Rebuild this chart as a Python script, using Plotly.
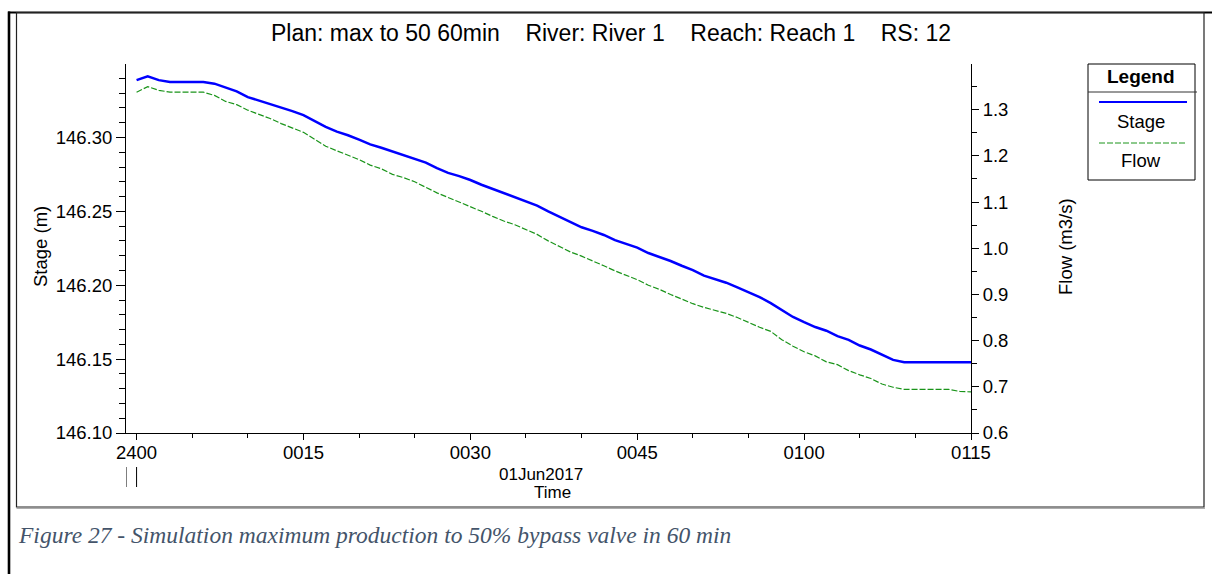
import plotly.graph_objects as go

# ---------------- data ----------------
minutes = list(range(76))  # minutes after 2400 (31May2017) -> 0115 01Jun2017

stage = [
    146.3388, 146.3414, 146.3388, 146.3375, 146.3375, 146.3375, 146.3375, 146.3364,
    146.3340, 146.3312, 146.3273, 146.3250, 146.3228, 146.3203, 146.3178, 146.3151,
    146.3112, 146.3072, 146.3039, 146.3015, 146.2985, 146.2953, 146.2930, 146.2905,
    146.2880, 146.2855, 146.2830, 146.2792, 146.2760, 146.2738, 146.2712, 146.2680,
    146.2652, 146.2625, 146.2600, 146.2568, 146.2539, 146.2500, 146.2465, 146.2428,
    146.2392, 146.2368, 146.2340, 146.2305, 146.2280, 146.2254, 146.2218, 146.2192,
    146.2164, 146.2132, 146.2102, 146.2065, 146.2040, 146.2017, 146.1985, 146.1955,
    146.1920, 146.1879, 146.1835, 146.1785, 146.1750, 146.1717, 146.1692, 146.1656,
    146.1630, 146.1592, 146.1565, 146.1528, 146.1495, 146.1479, 146.1479, 146.1479,
    146.1479, 146.1479, 146.1479, 146.1479,
]

flow = [
    1.338, 1.350, 1.342, 1.338, 1.338, 1.338, 1.338, 1.331,
    1.318, 1.311, 1.299, 1.290, 1.281, 1.270, 1.261, 1.251,
    1.236, 1.221, 1.211, 1.201, 1.192, 1.180, 1.172, 1.160,
    1.153, 1.144, 1.132, 1.120, 1.110, 1.100, 1.091, 1.080,
    1.069, 1.059, 1.051, 1.041, 1.030, 1.016, 1.004, 0.992,
    0.983, 0.973, 0.962, 0.951, 0.941, 0.932, 0.920, 0.911,
    0.900, 0.890, 0.880, 0.872, 0.866, 0.859, 0.850, 0.839,
    0.829, 0.820, 0.802, 0.788, 0.776, 0.767, 0.754, 0.748,
    0.735, 0.726, 0.718, 0.706, 0.699, 0.6945, 0.6945, 0.6945,
    0.6945, 0.6945, 0.690, 0.689,
]

x_tickvals = [0, 15, 30, 45, 60, 75]
x_ticktext = ["2400", "0015", "0030", "0045", "0100", "0115"]
x_minor_vals = [5, 10, 20, 25, 35, 40, 50, 55, 65, 70]
date_boundaries = [-0.95, 0]

title_text = "Plan: max to 50 60min\u00a0\u00a0\u00a0 River: River 1\u00a0\u00a0\u00a0 Reach: Reach 1\u00a0\u00a0\u00a0 RS: 12"
caption_text = "Figure 27 - Simulation maximum production to 50% bypass valve in 60 min"

# ---------------- layout helpers ----------------
W, H = 1212, 574
ML, MR, MT, MB = 126, 241, 64, 141
PW = W - ML - MR
PH = H - MT - MB


def px(x):
    return (x - ML) / PW


def py(y):
    return (MT + PH - y) / PH


FONT = "Liberation Sans, Arial, sans-serif"
TICKF = dict(family=FONT, size=18.5, color="black")

fig = go.Figure()
fig.add_trace(go.Scatter(x=minutes, y=stage, name="Stage", mode="lines",
                         line=dict(color="#0000FF", width=2.5), yaxis="y"))
fig.add_trace(go.Scatter(x=minutes, y=flow, name="Flow", mode="lines",
                         line=dict(color="#1A941A", width=1.2, dash="6px,2px"), yaxis="y2"))

shapes = []
# outer page lines
shapes.append(dict(type="line", xref="paper", yref="paper", x0=px(9), x1=px(9), y0=py(11.5), y1=py(574),
                   line=dict(color="black", width=2.6)))
shapes.append(dict(type="line", xref="paper", yref="paper", x0=px(8), x1=px(1212), y0=py(12.5), y1=py(12.5),
                   line=dict(color="black", width=2)))
# chart box
shapes.append(dict(type="rect", xref="paper", yref="paper", x0=px(16.5), x1=px(1204), y0=py(507), y1=py(12.5),
                   line=dict(color="#222222", width=1.2)))
shapes.append(dict(type="line", xref="paper", yref="paper", x0=px(16.5), x1=px(1205), y0=py(508.2), y1=py(508.2),
                   line=dict(color="#888888", width=1)))
# date boundary marks
for d in date_boundaries:
    shapes.append(dict(type="line", xref="x", yref="paper", x0=d, x1=d, y0=py(467), y1=py(487),
                       line=dict(color="black", width=1)))
# legend box
LX0, LX1, LY0, LY1 = 1088, 1195, 64, 180
shapes.append(dict(type="rect", xref="paper", yref="paper", x0=px(LX0), x1=px(LX1), y0=py(LY1), y1=py(LY0),
                   line=dict(color="black", width=1)))
shapes.append(dict(type="line", xref="paper", yref="paper", x0=px(LX0), x1=px(1197), y0=py(92), y1=py(92),
                   line=dict(color="#333333", width=1)))
shapes.append(dict(type="line", xref="paper", yref="paper", x0=px(1099), x1=px(1187), y0=py(102), y1=py(102),
                   line=dict(color="#0000FF", width=2.2)))
shapes.append(dict(type="line", xref="paper", yref="paper", x0=px(1099), x1=px(1187), y0=py(143), y1=py(143),
                   line=dict(color="#1A941A", width=1, dash="6px,2px")))

annotations = [
    dict(text=title_text, x=px(610.5), y=py(33), xref="paper", yref="paper", showarrow=False,
         xanchor="center", yanchor="middle", font=dict(family=FONT, size=23, color="black")),
    dict(text="Stage (m)", x=px(40), y=py(247), xref="paper", yref="paper", showarrow=False, textangle=-90,
         xanchor="center", yanchor="middle", font=dict(family=FONT, size=18.5, color="black")),
    dict(text="Flow (m3/s)", x=px(1065), y=py(247), xref="paper", yref="paper", showarrow=False, textangle=-90,
         xanchor="center", yanchor="middle", font=dict(family=FONT, size=18.5, color="black")),
    dict(text="01Jun2017", x=px(541), y=py(474), xref="paper", yref="paper", showarrow=False,
         xanchor="center", yanchor="middle", font=dict(family=FONT, size=17, color="black")),
    dict(text="Time", x=px(552), y=py(492), xref="paper", yref="paper", showarrow=False,
         xanchor="center", yanchor="middle", font=dict(family=FONT, size=17, color="black")),
    dict(text="<b>Legend</b>", x=px(1141), y=py(77), xref="paper", yref="paper", showarrow=False,
         xanchor="center", yanchor="middle", font=dict(family=FONT, size=19, color="black")),
    dict(text="Stage", x=px(1141), y=py(122), xref="paper", yref="paper", showarrow=False,
         xanchor="center", yanchor="middle", font=dict(family=FONT, size=18.5, color="black")),
    dict(text="Flow", x=px(1141), y=py(160), xref="paper", yref="paper", showarrow=False,
         xanchor="center", yanchor="middle", font=dict(family=FONT, size=18.5, color="black")),
    dict(text="<i>" + caption_text + "</i>", x=px(16), y=py(535), xref="paper", yref="paper", showarrow=False,
         xanchor="left", yanchor="middle",
         font=dict(family="Liberation Serif, Times New Roman, serif", size=23.5, color="#44546A")),
]

fig.update_layout(
    width=W, height=H,
    margin=dict(l=ML, r=MR, t=MT, b=MB, pad=0),
    paper_bgcolor="white", plot_bgcolor="white",
    showlegend=False,
    shapes=shapes,
    annotations=annotations,
    xaxis=dict(range=[-0.95, 75], tickmode="array", tickvals=x_tickvals, ticktext=x_ticktext,
               ticks="outside", ticklen=6, tickwidth=1, tickcolor="black", ticklabelstandoff=-3,
               minor=dict(tickmode="array", tickvals=x_minor_vals, ticks="outside", ticklen=4,
                          tickwidth=1, tickcolor="black", showgrid=False),
               showline=True, linecolor="black", linewidth=1, showgrid=False, zeroline=False,
               tickfont=TICKF),
    yaxis=dict(range=[146.10, 146.3497], tickmode="linear", tick0=146.10, dtick=0.05, tickformat=".2f",
               ticks="outside", ticklen=9, tickwidth=1, tickcolor="black",
               minor=dict(tickmode="linear", tick0=146.10, dtick=0.01, ticks="outside", ticklen=6,
                          tickwidth=1, tickcolor="black", showgrid=False),
               showline=True, linecolor="black", linewidth=1, showgrid=False, zeroline=False,
               tickfont=TICKF),
    yaxis2=dict(range=[0.6, 1.399], overlaying="y", side="right", anchor="x",
                tickmode="linear", tick0=0.6, dtick=0.1, tickformat=".1f",
                ticks="outside", ticklen=7, tickwidth=1, tickcolor="black",
                minor=dict(tickmode="linear", tick0=0.6, dtick=0.05, ticks="outside", ticklen=5,
                           tickwidth=1, tickcolor="black", showgrid=False),
                showline=True, linecolor="black", linewidth=1, showgrid=False, zeroline=False,
                tickfont=TICKF),
)

fig.write_html("out.html")
